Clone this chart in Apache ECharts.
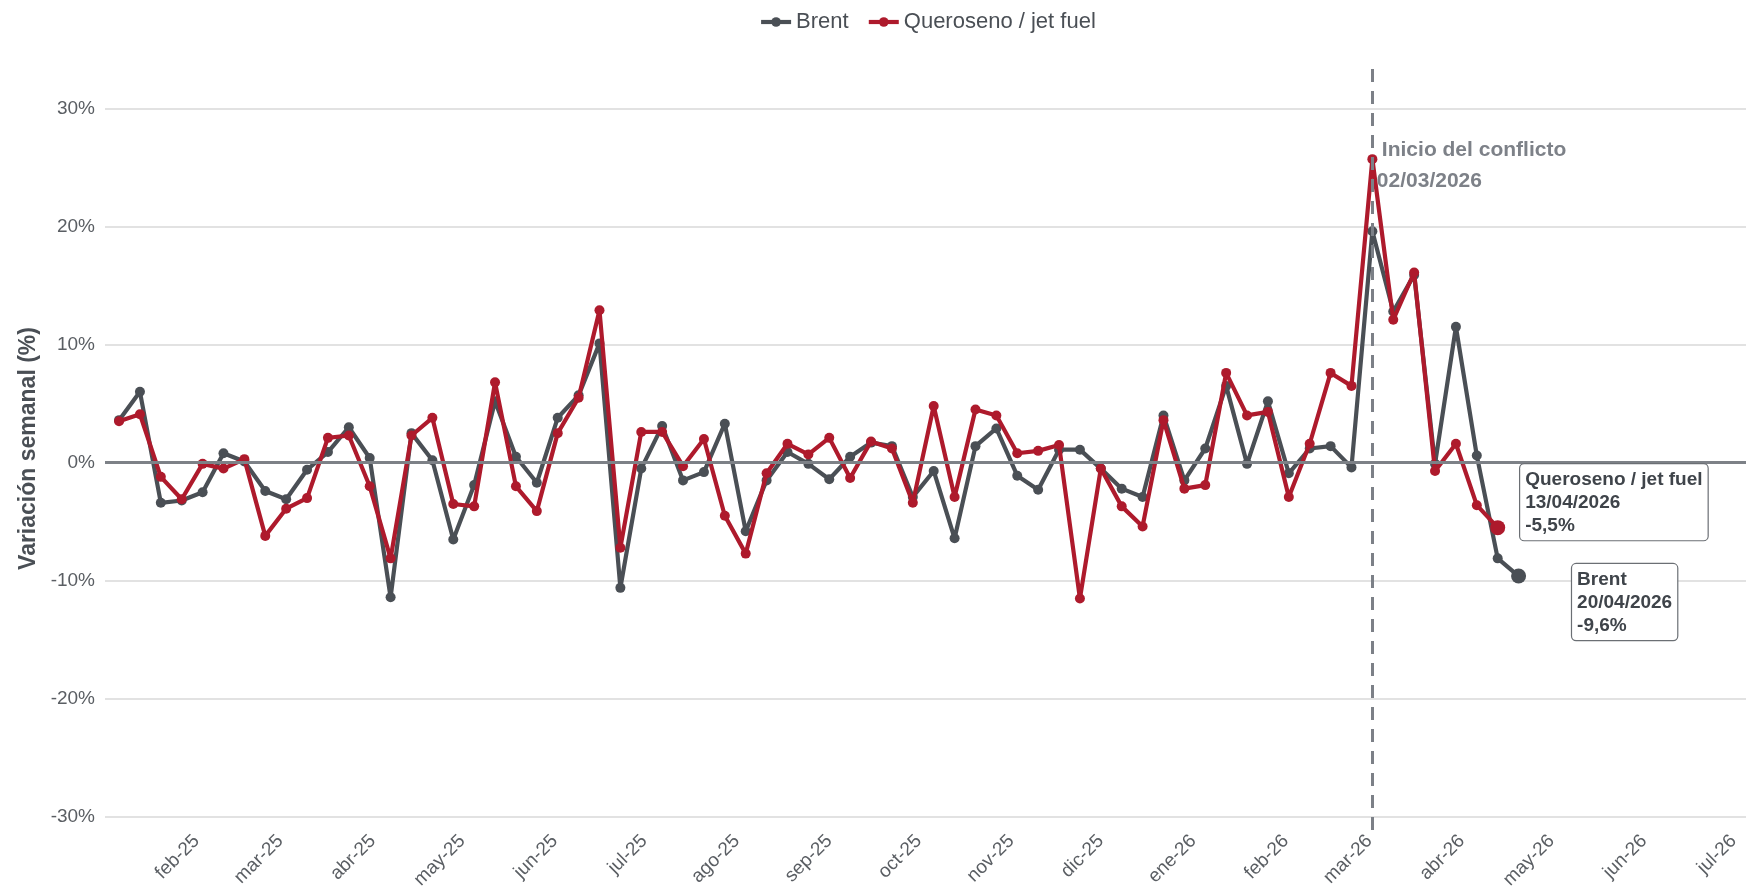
<!DOCTYPE html>
<html>
<head>
<meta charset="utf-8">
<script src="https://cdn.jsdelivr.net/npm/echarts@6/dist/echarts.min.js"></script>
<style>
html,body{margin:0;padding:0;background:#ffffff;}
#chart{width:1746px;height:894px;}
</style>
</head>
<body>
<div id="chart"></div>
<script>
// ---- Data (weekly variation, %) ----
const dates = [
  '2025-01-06','2025-01-13','2025-01-20','2025-01-27',
  '2025-02-03','2025-02-10','2025-02-17','2025-02-24',
  '2025-03-03','2025-03-10','2025-03-17','2025-03-24','2025-03-31',
  '2025-04-07','2025-04-14','2025-04-21','2025-04-28',
  '2025-05-05','2025-05-12','2025-05-19','2025-05-26',
  '2025-06-02','2025-06-09','2025-06-16','2025-06-23','2025-06-30',
  '2025-07-07','2025-07-14','2025-07-21','2025-07-28',
  '2025-08-04','2025-08-11','2025-08-18','2025-08-25',
  '2025-09-01','2025-09-08','2025-09-15','2025-09-22','2025-09-29',
  '2025-10-06','2025-10-13','2025-10-20','2025-10-27',
  '2025-11-03','2025-11-10','2025-11-17','2025-11-24',
  '2025-12-01','2025-12-08','2025-12-15','2025-12-22','2025-12-29',
  '2026-01-05','2026-01-12','2026-01-19','2026-01-26',
  '2026-02-02','2026-02-09','2026-02-16','2026-02-23',
  '2026-03-02','2026-03-09','2026-03-16','2026-03-23','2026-03-30',
  '2026-04-06','2026-04-13','2026-04-20'
];
const brent = [
  3.6, 6.0, -3.4, -3.2, -2.5, 0.8, 0.1, -2.4, -3.1, -0.6, 0.9, 3.0, 0.4,
  -11.4, 2.5, 0.2, -6.5, -1.9, 5.2, 0.5, -1.7, 3.8, 5.7, 10.1, -10.6, -0.5,
  3.1, -1.5, -0.8, 3.3, -5.8, -1.5, 0.9, -0.1, -1.4, 0.5, 1.7, 1.4, -2.9,
  -0.7, -6.4, 1.4, 2.9, -1.1, -2.3, 1.1, 1.1, -0.5, -2.2, -2.9, 4.0, -1.5,
  1.2, 6.5, -0.1, 5.2, -0.9, 1.2, 1.4, -0.4, 19.6, 12.8, 15.9, -0.1, 11.5,
  0.6, -8.1, -9.6
];
const jetFuel = [
  3.5, 4.1, -1.2, -3.1, -0.1, -0.5, 0.3, -6.2, -3.9, -3.0, 2.1, 2.3, -2.0,
  -8.1, 2.3, 3.8, -3.5, -3.7, 6.8, -2.0, -4.1, 2.5, 5.5, 12.9, -7.2, 2.6,
  2.6, -0.3, 2.0, -4.5, -7.7, -0.9, 1.6, 0.7, 2.1, -1.3, 1.8, 1.2, -3.4,
  4.8, -2.9, 4.5, 4.0, 0.8, 1.0, 1.5, -11.5, -0.5, -3.7, -5.4, 3.6, -2.2,
  -1.9, 7.6, 4.0, 4.3, -2.9, 1.6, 7.6, 6.5, 25.7, 12.1, 16.1, -0.7, 1.6,
  -3.6, -5.5
];
const yTicks = [-30, -20, -10, 0, 10, 20, 30];
const monthTicks = [
  '2025-02-01','2025-03-01','2025-04-01','2025-05-01','2025-06-01','2025-07-01',
  '2025-08-01','2025-09-01','2025-10-01','2025-11-01','2025-12-01','2026-01-01',
  '2026-02-01','2026-03-01','2026-04-01','2026-05-01','2026-06-01','2026-07-01'
];
const monthNames = ['ene','feb','mar','abr','may','jun','jul','ago','sep','oct','nov','dic'];
const conflictDate = '2026-03-02';
const seriesNames = ['Brent', 'Queroseno / jet fuel'];

// ---- helpers ----
function localTs(s) {
  const p = s.split('-').map(Number);
  return new Date(p[0], p[1] - 1, p[2]).getTime();
}
function fmtDate(s) {
  const p = s.split('-');
  return p[2] + '/' + p[1] + '/' + p[0];
}
function fmtPct(v) {
  return String(v.toFixed(1)).replace('.', ',') + '%';
}

const BRENT_C = '#4a4f55';
const JET_C = '#ae1a2c';
const GREY_TXT = '#5a5e63';
const FONT = '"Liberation Sans", Arial, Helvetica, sans-serif';

const brentData = dates.map((d, i) => [localTs(d), brent[i]]);
const jetData = jetFuel.map((v, i) => [localTs(dates[i]), v]);
const lastB = brentData.length - 1;
const lastJ = jetData.length - 1;
const monthTs = monthTicks.map(localTs);

function endLabel(name, dateStr, val, color, pos) {
  return {
    coord: [localTs(dateStr), val],
    symbol: 'circle',
    symbolSize: 15,
    itemStyle: { color: color },
    label: {
      show: true,
      position: pos,
      align: 'left',
      verticalAlign: 'top',
      formatter: name + '\n' + fmtDate(dateStr) + '\n' + fmtPct(val),
      fontFamily: FONT,
      fontSize: 19,
      fontWeight: 'bold',
      lineHeight: 23,
      color: '#3f444a',
      backgroundColor: '#ffffff',
      borderColor: '#6b6f74',
      borderWidth: 1.2,
      borderRadius: 4,
      padding: [4, 5, 3, 5]
    }
  };
}

const chart = echarts.init(document.getElementById('chart'), null, { renderer: 'canvas' });

const option = {
  animation: false,
  backgroundColor: '#ffffff',
  textStyle: { fontFamily: FONT },
  legend: {
    data: seriesNames,
    top: 6,
    left: 754,
    itemWidth: 30,
    itemHeight: 12,
    itemGap: 18,
    lineStyle: { width: 4.2 },
    textStyle: { fontSize: 22, color: BRENT_C, fontFamily: FONT }
  },
  grid: { left: 105, right: 0, top: 67, bottom: 64 },
  xAxis: {
    type: 'value',
    min: new Date(2025, 0, 1, 7).getTime(),
    max: new Date(2026, 6, 5, 5).getTime(),
    axisLine: { show: false },
    axisTick: { show: false, customValues: monthTs },
    splitLine: { show: false },
    axisLabel: {
      customValues: monthTs,
      rotate: 45,
      margin: 8,
      fontSize: 19,
      color: GREY_TXT,
      fontFamily: FONT,
      hideOverlap: false,
      formatter: function (v) {
        const d = new Date(v);
        return monthNames[d.getMonth()] + '-' + String(d.getFullYear()).slice(2);
      }
    }
  },
  yAxis: {
    type: 'value',
    min: -31.1,
    max: 33.5,
    name: 'Variación semanal (%)',
    nameLocation: 'middle',
    nameGap: 64,
    nameRotate: 90,
    nameTextStyle: { fontSize: 23, fontWeight: 'bold', color: BRENT_C, fontFamily: FONT },
    axisLine: { show: false },
    axisTick: { show: false, customValues: yTicks },
    axisLabel: {
      customValues: yTicks,
      fontSize: 19,
      color: GREY_TXT,
      margin: 10,
      fontFamily: FONT,
      formatter: function (v) { return v + '%'; }
    },
    splitLine: { show: true, lineStyle: { color: '#d9d9d9', width: 1.5 } }
  },
  series: [
    {
      name: 'refs',
      type: 'line',
      data: [],
      z: 1,
      silent: true,
      markLine: {
        silent: true,
        symbol: ['none', 'none'],
        label: { show: false },
        animation: false,
        data: [
          { yAxis: 0, lineStyle: { color: '#7d8187', width: 2.8, type: 'solid' } },
          { xAxis: localTs(conflictDate), lineStyle: { color: '#7c8087', width: 3, type: [13, 9] } }
        ]
      },
      markPoint: {
        silent: true,
        animation: false,
        data: [{
          coord: [localTs(conflictDate), 27.75],
          symbol: 'circle',
          symbolSize: 1,
          itemStyle: { color: 'rgba(0,0,0,0)' },
          label: {
            show: true,
            position: [5, 0],
            align: 'left',
            verticalAlign: 'top',
            formatter: '{a|Inicio del conflicto}\n{b|' + fmtDate(conflictDate) + '}',
            rich: {
              a: { fontSize: 21, fontWeight: 'bold', color: '#7d8188', lineHeight: 31, padding: [0, 0, 0, 5], fontFamily: FONT },
              b: { fontSize: 21, fontWeight: 'bold', color: '#7d8188', lineHeight: 31, fontFamily: FONT }
            }
          }
        }]
      }
    },
    {
      name: seriesNames[0],
      type: 'line',
      data: brentData,
      z: 3,
      symbol: 'circle',
      symbolSize: 10,
      showSymbol: true,
      color: BRENT_C,
      itemStyle: { color: BRENT_C },
      lineStyle: { color: BRENT_C, width: 4.2 },
      markPoint: {
        animation: false,
        silent: true,
        data: [endLabel(seriesNames[0], dates[lastB], brent[lastB], BRENT_C, [61, -4.5])]
      }
    },
    {
      name: seriesNames[1],
      type: 'line',
      data: jetData,
      z: 4,
      symbol: 'circle',
      symbolSize: 10,
      showSymbol: true,
      color: JET_C,
      itemStyle: { color: JET_C },
      lineStyle: { color: JET_C, width: 4.2 },
      markPoint: {
        animation: false,
        silent: true,
        data: [endLabel(seriesNames[1], dates[lastJ], jetFuel[lastJ], JET_C, [30, -56])]
      }
    }
  ]
};

chart.setOption(option);
</script>
</body>
</html>
